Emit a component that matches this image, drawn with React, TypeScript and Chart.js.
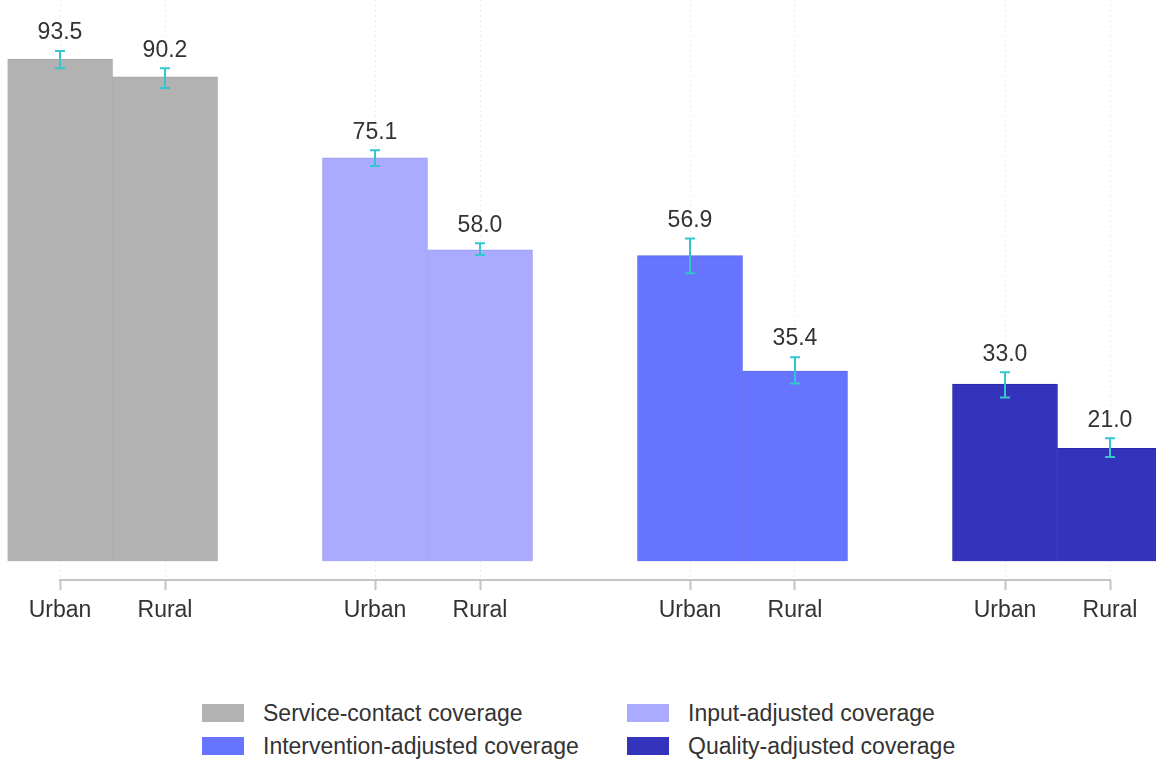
import { useEffect, useRef } from "react";
import { Chart, registerables } from "chart.js";

Chart.register(...registerables);

// Category slots: two bars per coverage step, with an empty slot between groups
const categories = ["Urban", "Rural", "", "Urban", "Rural", "", "Urban", "Rural", "", "Urban", "Rural"];

const seriesNames = [
  "Service-contact coverage",
  "Input-adjusted coverage",
  "Intervention-adjusted coverage",
  "Quality-adjusted coverage",
];

// Urban, Rural values per series
const serviceContact = [93.5, 90.2];
const inputAdjusted = [75.1, 58.0];
const interventionAdjusted = [56.9, 35.4];
const qualityAdjusted = [33.0, 21.0];

// Confidence intervals [low, high], Urban then Rural
const serviceContactCI = [[91.8, 95.0], [88.1, 91.8]];
const inputAdjustedCI = [[73.6, 76.5], [57.0, 59.2]];
const interventionAdjustedCI = [[53.6, 60.1], [33.1, 38.0]];
const qualityAdjustedCI = [[30.5, 35.2], [19.4, 22.9]];

const fillColors = ["#b2b2b2", "#aaaaff", "#6674ff", "#3333bb"];
const edgeColors = ["#a4a4a4", "#9d9df2", "#5a68f0", "#2a2aa8"];
const errorColor = "#33c6cc";

const FONT = "'Liberation Sans', Arial, Helvetica, sans-serif";
const FONT_SIZE = 23;

const seriesValues = [serviceContact, inputAdjusted, interventionAdjusted, qualityAdjusted];
const seriesCI = [serviceContactCI, inputAdjustedCI, interventionAdjustedCI, qualityAdjustedCI];

// Place a series' two values into its own pair of slots
function spread(values: number[], group: number): (number | null)[] {
  const out: (number | null)[] = categories.map(() => null);
  out[group * 3] = values[0];
  out[group * 3 + 1] = values[1];
  return out;
}

const errorBarPlugin = {
  id: "errorBars",
  afterDatasetsDraw(chart: any) {
    const { ctx } = chart;
    const yScale = chart.scales.y;
    chart.data.datasets.forEach((ds: any, di: number) => {
      const meta = chart.getDatasetMeta(di);
      const ci = seriesCI[di];
      let k = 0;
      meta.data.forEach((el: any, i: number) => {
        const v = ds.data[i];
        if (v === null || v === undefined) return;
        const [lo, hi] = ci[k];
        k++;
        const x = el.x;
        const yLo = yScale.getPixelForValue(lo);
        const yHi = yScale.getPixelForValue(hi);
        ctx.save();
        ctx.strokeStyle = errorColor;
        ctx.lineWidth = 2;
        ctx.beginPath();
        ctx.moveTo(x, yHi);
        ctx.lineTo(x, yLo);
        ctx.moveTo(x - 5, yHi);
        ctx.lineTo(x + 5, yHi);
        ctx.moveTo(x - 5, yLo);
        ctx.lineTo(x + 5, yLo);
        ctx.stroke();
        ctx.fillStyle = "#333333";
        ctx.font = `${FONT_SIZE}px ${FONT}`;
        ctx.textAlign = "center";
        ctx.textBaseline = "middle";
        ctx.fillText(v.toFixed(1), x, yHi - 18);
        ctx.restore();
      });
    });
  },
};

const axisLinePlugin = {
  id: "axisLine",
  afterDraw(chart: any) {
    const { ctx, chartArea } = chart;
    const xScale = chart.scales.x;
    const x0 = xScale.getPixelForValue(0);
    const x1 = xScale.getPixelForValue(categories.length - 1);
    ctx.save();
    ctx.strokeStyle = "#c4c4c4";
    ctx.lineWidth = 2;
    ctx.beginPath();
    ctx.moveTo(x0 - 1, chartArea.bottom);
    ctx.lineTo(x1 + 1, chartArea.bottom);
    ctx.stroke();
    ctx.restore();
  },
};

export default function App() {
  const canvasRef = useRef<HTMLCanvasElement | null>(null);

  useEffect(() => {
    if (!canvasRef.current) return;
    const chart = new Chart(canvasRef.current, {
      type: "bar",
      data: {
        labels: categories,
        datasets: seriesNames.map((name, i) => ({
          label: name,
          data: spread(seriesValues[i], i),
          backgroundColor: fillColors[i],
          borderColor: edgeColors[i],
          borderWidth: 1,
          grouped: false,
          skipNull: true,
          categoryPercentage: 1,
          barPercentage: 1,
        })),
      },
      options: {
        responsive: false,
        animation: false,
        layout: { padding: { left: 7.5, right: 7.5, top: 0, bottom: 0 } },
        plugins: {
          legend: { display: false },
          tooltip: { enabled: false },
        },
        scales: {
          x: {
            afterFit: (scale: any) => {
              scale.height = 60;
            },
            grid: {
              offset: false,
              color: (c: any) => (categories[c.index] ? "#ececec" : "rgba(0,0,0,0)"),
              tickColor: (c: any) => (categories[c.index] ? "#c4c4c4" : "rgba(0,0,0,0)"),
              lineWidth: 1,
              tickWidth: 2,
              tickLength: 10,
              tickBorderDash: [],
              drawTicks: true,
              drawOnChartArea: true,
            },
            border: { display: false, dash: [2, 3] },
            ticks: {
              color: "#333333",
              font: { family: FONT, size: FONT_SIZE },
              padding: 7,
              autoSkip: false,
              maxRotation: 0,
            },
          },
          y: {
            display: false,
            min: -3.5,
            max: 104.5,
          },
        },
      },
      plugins: [errorBarPlugin, axisLinePlugin],
    });
    return () => chart.destroy();
  }, []);

  const legendPos = [
    { left: 202, top: 702 },
    { left: 627, top: 702 },
    { left: 202, top: 735 },
    { left: 627, top: 735 },
  ];

  return (
    <div
      style={{
        position: "fixed",
        left: 0,
        top: 0,
        width: 1156,
        height: 760,
        overflow: "hidden",
        background: "#ffffff",
      }}
    >
      <canvas
        ref={canvasRef}
        width={1170}
        height={640}
        style={{ position: "absolute", left: 0, top: 0, width: 1170, height: 640 }}
      />
      {seriesNames.map((name, i) => (
        <div
          key={name}
          style={{
            position: "absolute",
            left: legendPos[i].left,
            top: legendPos[i].top,
            height: 22,
            display: "flex",
            alignItems: "center",
            fontFamily: FONT,
            fontSize: FONT_SIZE,
            color: "#333333",
            whiteSpace: "nowrap",
          }}
        >
          <span
            style={{
              display: "inline-block",
              width: 42,
              height: 18,
              background: fillColors[i],
              marginRight: 19,
            }}
          />
          <span>{name}</span>
        </div>
      ))}
    </div>
  );
}
